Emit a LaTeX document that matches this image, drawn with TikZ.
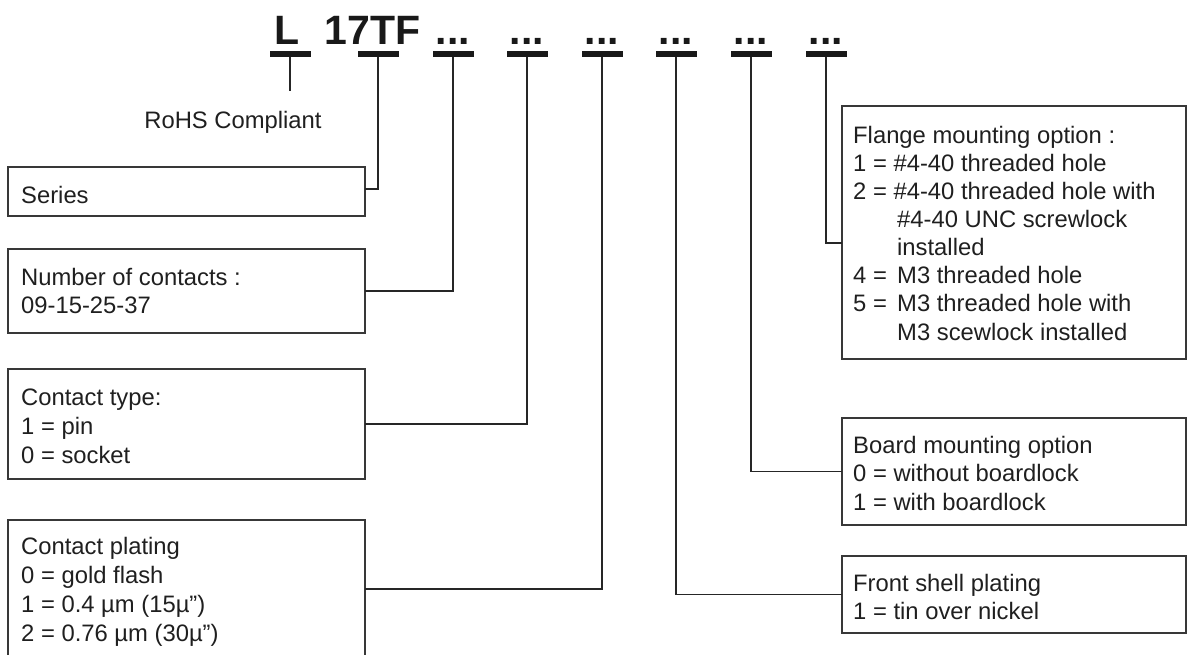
\documentclass[tikz,border=0pt]{standalone}
\usepackage{fontspec}
\setmainfont{Liberation Sans}
\begin{document}
\begin{tikzpicture}[x=1pt,y=-1pt,
  box/.style={draw=black!78, line width=1.4pt, anchor=north west, inner sep=0pt, outer sep=0pt},
  conn/.style={draw=black!85, line width=1.3pt},
  txt/.style={anchor=base west, inner sep=0pt, font=\fontsize{23.8}{28}\selectfont, text=black!88},
  big/.style={anchor=base, inner sep=0pt, font=\fontsize{41}{41}\selectfont\bfseries, text=black!90},
  bar/.style={fill=black!90, draw=none, minimum width=41pt, minimum height=5.5pt, inner sep=0pt, outer sep=0pt},
]
\useasboundingbox (0,0) rectangle (1187,654);
\clip (0,0) rectangle (1187,654);

% part number
\node[big] (tL) at (287,44) {L};
\node[big, anchor=base west] (tS) at (324.5,44) {17TF};
\node[big] (d3) at (453,44) {...};
\node[big] (d4) at (527,44) {...};
\node[big] (d5) at (602,44) {...};
\node[big] (d6) at (676,44) {...};
\node[big] (d7) at (751,44) {...};
\node[big] (d8) at (826,44) {...};

% bars
\node[bar] (bar1) at (290,54) {};
\node[bar] (bar2) at (378,54) {};
\node[bar] (bar3) at (453,54) {};
\node[bar] (bar4) at (527,54) {};
\node[bar] (bar5) at (602,54) {};
\node[bar] (bar6) at (676,54) {};
\node[bar] (bar7) at (751,54) {};
\node[bar] (bar8) at (826,54) {};

% RoHS
\coordinate (rohsend) at (290,91);
\node[txt, anchor=base] (rohs) at (233,128) {RoHS Compliant};

% left boxes
\node[box, minimum width=357pt, minimum height=49pt] (series) at (8,167) {};
\node[box, minimum width=357pt, minimum height=84pt] (number) at (8,249) {};
\node[box, minimum width=357pt, minimum height=110pt] (ctype) at (8,369) {};
\node[box, minimum width=357pt, minimum height=138pt] (plating) at (8,520) {};

% right boxes
\node[box, minimum width=344pt, minimum height=253pt] (flange) at (842,106) {};
\node[box, minimum width=344pt, minimum height=107pt] (board) at (842,418) {};
\node[box, minimum width=344pt, minimum height=77pt] (front) at (842,556) {};

% texts left
\node[txt] (s1) at (21,203) {Series};
\node[txt] (n1) at (21,285) {Number of contacts :};
\node[txt] (n2) at (21,313) {09-15-25-37};
\node[txt] (c1) at (21,405) {Contact type:};
\node[txt] (c2) at (21,434) {1 = pin};
\node[txt] (c3) at (21,463) {0 = socket};
\node[txt] (p1) at (21,554) {Contact plating};
\node[txt] (p2) at (21,583) {0 = gold flash};
\node[txt] (p3) at (21,612) {1 = 0.4 µm (15µ”)};
\node[txt] (p4) at (21,641) {2 = 0.76 µm (30µ”)};

% texts right
\node[txt] (f1) at (853,143) {Flange mounting option :};
\node[txt] (f2) at (853,171) {1 = \#4-40 threaded hole};
\node[txt] (f3) at (853,199) {2 = \#4-40 threaded hole with};
\node[txt] (f4) at (853,227) {\hspace*{44pt}\#4-40 UNC screwlock};
\node[txt] (f5) at (853,255) {\hspace*{44pt}installed};
\node[txt] (f6) at (853,283) {\makebox[44pt][l]{4 =}M3 threaded hole};
\node[txt] (f7) at (853,311) {\makebox[44pt][l]{5 =}M3 threaded hole with};
\node[txt] (f8) at (853,340) {\hspace*{44pt}M3 scewlock installed};
\node[txt] (b1) at (853,453) {Board mounting option};
\node[txt] (b2) at (853,481) {0 = without boardlock};
\node[txt] (b3) at (853,510) {1 = with boardlock};
\node[txt] (r1) at (853,591) {Front shell plating};
\node[txt] (r2) at (853,619) {1 = tin over nickel};

% connectors
\draw[conn] (bar1.south) -- (rohsend);
\draw[conn] (bar2.south) |- ([yshift=2.5pt]series.east);
\draw[conn] (bar3.south) |- (number.east);
\draw[conn] (bar4.south) |- (ctype.east);
\draw[conn] (bar5.south) |- (plating.east);
\draw[conn] (bar6.south) |- (front.west);
\draw[conn] (bar7.south) |- (board.west);
\draw[conn] (bar8.south) |- ([yshift=-10.5pt]flange.west);
\end{tikzpicture}
\end{document}
